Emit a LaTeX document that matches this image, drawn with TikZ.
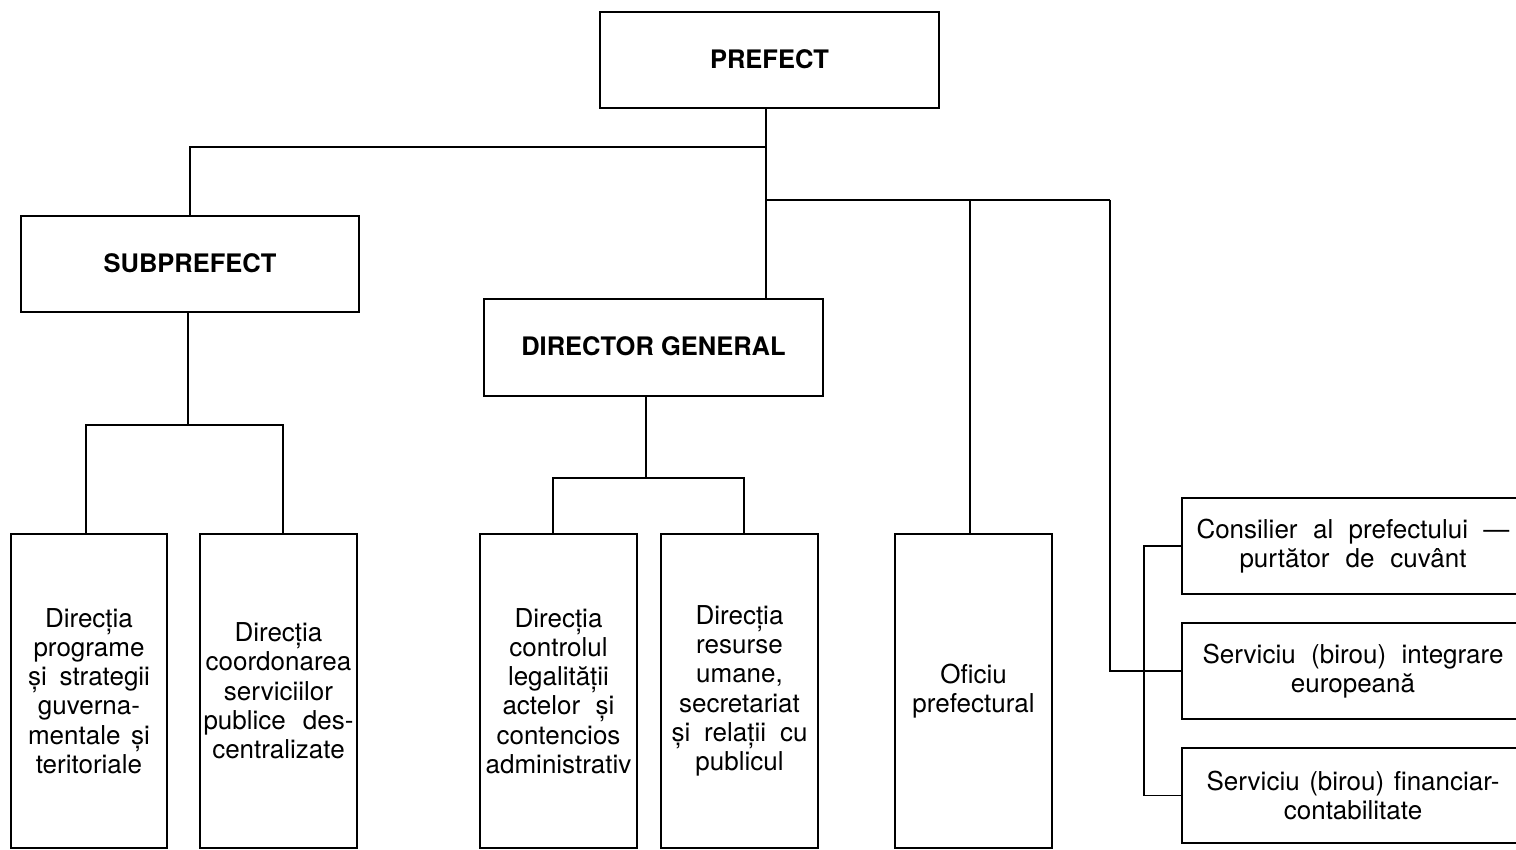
\documentclass[tikz,border=0pt]{standalone}
\usepackage{fontspec}
\setmainfont{TeX Gyre Heros}
\begin{document}
\begin{tikzpicture}[x=1pt,y=-1pt,
  box/.style={draw, line width=1.8pt, inner sep=0pt, align=center,
    font=\fontsize{26}{29.3}\selectfont},
  head/.style={box, font=\fontsize{25.5}{30}\selectfont\bfseries},
  conn/.style={line width=1.8pt}]
\useasboundingbox (0,0) rectangle (1516,850);
% top boxes
\node[head, minimum width=339pt, minimum height=96pt] (pref) at (769.5,60) {\raisebox{2pt}{PREFECT}};
\node[head, minimum width=338pt, minimum height=96pt] (sub) at (190,264) {\raisebox{2pt}{SUBPREFECT}};
\node[head, minimum width=339pt, minimum height=97pt] (dg) at (653.5,347.5) {\raisebox{2pt}{DIRECTOR GENERAL}};
% bottom boxes
\node[box, minimum width=156pt, minimum height=314pt] (b1) at (89,691)
  {Direcția\\ programe\\ \makebox[122pt][s]{și strategii}\\ guverna-\\ \makebox[122pt][s]{mentale și}\\ teritoriale};
\node[box, minimum width=157pt, minimum height=314pt] (b2) at (278.5,691)
  {Direcția\\ coordonarea\\ serviciilor\\ \makebox[150pt][s]{publice des-}\\ centralizate};
\node[box, minimum width=157pt, minimum height=314pt] (b3) at (558.5,691)
  {Direcția\\ controlul\\ legalității\\ \makebox[112pt][s]{actelor și}\\ contencios\\ administrativ};
\node[box, minimum width=157pt, minimum height=314pt] (b4) at (739.5,691)
  {Direcția\\ resurse\\ umane,\\ secretariat\\ \makebox[136pt][s]{și relații cu}\\ publicul};
\node[box, minimum width=157pt, minimum height=314pt] (b5) at (973.5,691)
  {Oficiu\\ prefectural};
% right boxes (open to the right edge)
\node[box, minimum width=342pt, minimum height=96pt] (r1) at (1353,546)
  {\makebox[313pt][s]{Consilier al prefectului —}\\ \makebox[227pt][s]{purtător de cuvânt}};
\node[box, minimum width=342pt, minimum height=96pt] (r2) at (1353,671)
  {\makebox[301pt][s]{Serviciu (birou) integrare}\\ europeană};
\node[box, minimum width=342pt, minimum height=95pt] (r3) at (1353,795.5)
  {\makebox[293pt][s]{Serviciu (birou) financiar-}\\ contabilitate};
% junction coordinates
\coordinate (j1) at (766,147);
\coordinate (j2) at (766,200);
\coordinate (k5) at (970,200);
\coordinate (k6) at (1110,200);
\coordinate (k7) at (1144,546);
\coordinate (s1) at (188,425);
\coordinate (s1l) at (86,425);
\coordinate (s1r) at (283,425);
\coordinate (d1) at (646,478);
\coordinate (d1l) at (553,478);
\coordinate (d1r) at (744,478);
% connectors
\draw[conn] (pref.south -| j1) -- (dg.north -| j1);
\draw[conn] (sub.north) |- (j1);
\draw[conn] (j2) -- (k5) -- (k6);
\draw[conn] (k5) -- (k5 |- b5.north);
\draw[conn] (k6) |- (r2.west);
\draw[conn] (r1.west) -| (k7) |- (r3.west);
\draw[conn] (sub.south -| s1) -- (s1);
\draw[conn] (s1l |- b1.north) |- (s1r) -- (s1r |- b2.north);
\draw[conn] (dg.south -| d1) -- (d1);
\draw[conn] (d1l |- b3.north) |- (d1r) -- (d1r |- b4.north);
\end{tikzpicture}
\end{document}
